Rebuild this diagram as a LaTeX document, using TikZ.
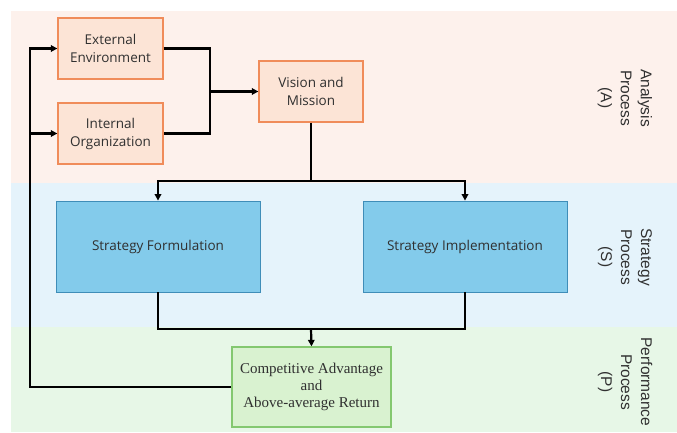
\documentclass[tikz,border=0pt]{standalone}
\usepackage{fontspec}
\setmainfont{Open Sans}
\newfontfamily\serifb{Liberation Serif}
\newfontfamily\labelf{Liberation Sans}
\usetikzlibrary{arrows.meta}
\definecolor{bandA}{HTML}{FDF1EC}
\definecolor{bandS}{HTML}{E5F3FB}
\definecolor{bandP}{HTML}{E7F7E7}
\definecolor{orfill}{HTML}{FCE4D6}
\definecolor{ordraw}{HTML}{F08C5A}
\definecolor{blfill}{HTML}{83CBEB}
\definecolor{bldraw}{HTML}{3F8DB8}
\definecolor{grfill}{HTML}{D9F2D0}
\definecolor{grdraw}{HTML}{84C870}
\definecolor{txt}{HTML}{303030}
\begin{document}
\begin{tikzpicture}[x=1pt,y=-1pt,
  orbox/.style={draw=ordraw,fill=orfill,line width=1.3pt,minimum width=105pt,minimum height=61pt,align=center,inner sep=2pt,font=\fontsize{13.5}{18}\selectfont,text=txt},
  blbox/.style={draw=bldraw,fill=blfill,line width=0.8pt,minimum width=204pt,minimum height=91pt,align=center,font=\fontsize{13.5}{17}\selectfont,text=txt},
  grbox/.style={draw=grdraw,fill=grfill,line width=1.3pt,minimum width=159pt,minimum height=80pt,align=center,font=\serifb\fontsize{15}{17}\selectfont,text=txt},
  conn/.style={line width=2.2pt,black},
  arr/.style={conn,-{Triangle[length=6.5pt,width=6.5pt]}},
  lbl/.style={rotate=-90,align=center,font=\labelf\fontsize{15.5}{20}\selectfont,text=txt}]
\useasboundingbox (0,0) rectangle (677,433);
\fill[bandA] (11,11) rectangle (677,183);
\fill[bandS] (11,183) rectangle (677,327);
\fill[bandP] (11,327) rectangle (677,432);

\node[orbox] (ext) at (110.5,48.5) {External\\Environment};
\node[orbox] (int) at (110.5,133.5) {Internal\\Organization};
\node[orbox,minimum width=104pt] (vis) at (311,91.5) {Vision and\\Mission};
\node[blbox] (sf) at (158,246.5) {Strategy Formulation};
\node[blbox] (si) at (465,246.5) {Strategy Implementation};
\node[grbox] (ca) at (311.5,387) {Competitive Advantage\\and\\Above-average Return};

\node[lbl] (la) at (625,98) {Analysis\\Process\\(A)};
\node[lbl] (ls) at (625,257) {Strategy\\Process\\(S)};
\node[lbl] (lp) at (625,382) {Performance\\Process\\(P)};

\coordinate (j1) at (210,91.5);
\coordinate (j2) at (311,181);
\coordinate (j3) at (311,329);
\coordinate (fb) at (30,48.5);
\coordinate (fb2) at (30,133.5);

\draw[conn] (ext.east) -| (j1) |- (int.east);
\draw[arr] (j1) -- (vis.west);
\draw[conn] (vis.south) -- (j2);
\draw[arr] (j2) -| (sf.north);
\draw[arr] (j2) -| (si.north);
\draw[conn] (sf.south) |- (j3) -| (si.south);
\draw[arr] (j3) -- (ca.north);
\draw[arr] (ca.west) -| (fb) -- (ext.west);
\draw[arr] (fb2) -- (int.west);
\end{tikzpicture}
\end{document}
